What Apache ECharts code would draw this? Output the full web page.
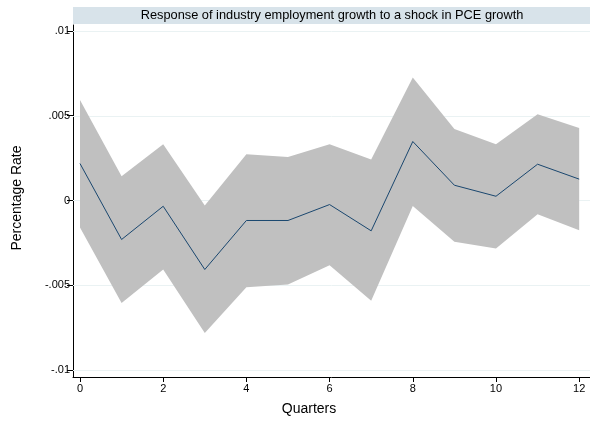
<!DOCTYPE html>
<html>
<head>
<meta charset="utf-8">
<script src="https://cdn.jsdelivr.net/npm/echarts@6/dist/echarts.min.js"></script>
<style>
  html, body { margin: 0; padding: 0; background: #ffffff; }
  #chart { width: 590px; height: 421px; }
</style>
</head>
<body>
<div id="chart"></div>
<script>
// Impulse response: quarters after the shock
const quarters = [0, 1, 2, 3, 4, 5, 6, 7, 8, 9, 10, 11, 12];
// Point estimate of the response
const response = [0.00218, -0.00230, -0.00034, -0.00407, -0.00118, -0.00118, -0.00024, -0.00179, 0.00348, 0.00090, 0.00025, 0.00214, 0.00126];
// Confidence band bounds
const upperBand = [0.00592, 0.00143, 0.00332, -0.00030, 0.00273, 0.00257, 0.00332, 0.00242, 0.00726, 0.00421, 0.00332, 0.00509, 0.00427];
const lowerBand = [-0.00159, -0.00604, -0.00407, -0.00781, -0.00512, -0.00496, -0.00382, -0.00592, -0.00032, -0.00244, -0.00283, -0.00081, -0.00175];
// Axis ticks and their labels
const xTicks = [0, 2, 4, 6, 8, 10, 12];
const yTicks = [0.01, 0.005, 0, -0.005, -0.01];
const yTickLabels = ['.01', '.005', '0', '-.005', '-.01'];

const titleText = 'Response of industry employment growth to a shock in PCE growth';
const font = 'Liberation Sans, Arial, Helvetica, sans-serif';

const X_MIN = -0.168, X_MAX = 12.26;

const chart = echarts.init(document.getElementById('chart'), null, { renderer: 'canvas' });

const linePoints = quarters.map((q, i) => [q, response[i]]);
const bandPoints = quarters.map((q, i) => [q, lowerBand[i], upperBand[i]]);

function yLabel(v) {
  for (let i = 0; i < yTicks.length; i++) {
    if (Math.abs(yTicks[i] - v) < 1e-9) return yTickLabels[i];
  }
  return '';
}

const option = {
  animation: false,
  backgroundColor: '#ffffff',
  grid: { left: 73, right: 0, top: 25, bottom: 44, containLabel: false },
  xAxis: {
    type: 'value',
    min: X_MIN,
    max: X_MAX,
    axisLine: { show: true, onZero: false, lineStyle: { color: '#000000', width: 1 } },
    axisTick: { show: true, customValues: xTicks, length: 5, lineStyle: { color: '#000000' } },
    axisLabel: { customValues: xTicks, color: '#000000', fontFamily: font, fontSize: 11, margin: 6 },
    splitLine: { show: false }
  },
  yAxis: {
    type: 'value',
    min: -0.01041,
    max: 0.01035,
    axisLine: { show: true, onZero: false, lineStyle: { color: '#000000', width: 1 } },
    axisTick: { show: true, customValues: yTicks, length: 6, lineStyle: { color: '#000000' } },
    axisLabel: { customValues: yTicks, color: '#000000', fontFamily: font, fontSize: 11, margin: 3, formatter: yLabel },
    splitLine: { show: false }
  },
  graphic: [
    {
      type: 'rect', left: 73, top: 7, z: 10,
      shape: { width: 517, height: 17 },
      style: { fill: '#d8e3ea' }
    },
    {
      type: 'text', x: 332, y: 15.5, z: 11,
      style: { text: titleText, fill: '#000000', font: '12.8px ' + font, align: 'center', verticalAlign: 'middle' }
    },
    {
      type: 'text', x: 17.5, y: 198, rotation: Math.PI / 2, z: 11,
      style: { text: 'Percentage Rate', fill: '#000000', font: '14px ' + font, align: 'center', verticalAlign: 'middle' }
    },
    {
      type: 'text', x: 309, y: 409, z: 11,
      style: { text: 'Quarters', fill: '#000000', font: '14px ' + font, align: 'center', verticalAlign: 'middle' }
    }
  ],
  series: [
    {
      // horizontal reference lines, then the shaded confidence band on top
      type: 'custom',
      data: [0],
      z: 2,
      silent: true,
      renderItem: function (params, api) {
        const children = yTicks.map(v => {
          const a = api.coord([X_MIN, v]);
          const b = api.coord([X_MAX, v]);
          return {
            type: 'line',
            shape: { x1: a[0], y1: Math.round(a[1]) + 0.5, x2: b[0], y2: Math.round(b[1]) + 0.5 },
            style: { stroke: '#eaf2f3', lineWidth: 1 }
          };
        });
        const top = bandPoints.map(p => api.coord([p[0], p[2]]));
        const bottom = bandPoints.map(p => api.coord([p[0], p[1]])).reverse();
        children.push({
          type: 'polygon',
          shape: { points: top.concat(bottom) },
          style: { fill: '#c0c0c0', stroke: null }
        });
        return { type: 'group', children: children };
      }
    },
    {
      type: 'line',
      data: linePoints,
      showSymbol: false,
      symbol: 'none',
      z: 3,
      lineStyle: { color: '#1a476f', width: 1 }
    }
  ]
};

chart.setOption(option);
</script>
</body>
</html>
